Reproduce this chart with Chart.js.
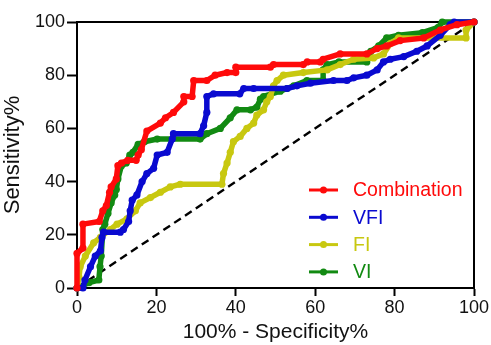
<!DOCTYPE html>
<html>
<head>
<meta charset="utf-8">
<script src="https://cdn.jsdelivr.net/npm/chart.js@4/dist/chart.umd.min.js"></script>
<style>
  html, body { margin: 0; padding: 0; background: #fff; }
  #wrap { width: 491px; height: 345px; }
</style>
</head>
<body>
<div id="wrap"><canvas id="c" width="491" height="345"></canvas></div>
<script>
// ---- data (x = 100% - Specificity%, y = Sensitivity%) ----
const seriesNames = ["Combination", "VFI", "FI", "VI"];

const combinationX = [0, 0, 1.5, 1.5, 5.6, 6.5, 7.4, 8.2, 8.6, 9.9, 10.3, 11.2, 12.8, 14.9, 15.4, 16.2, 17.6, 21, 22.3, 24.3, 26.9, 26.9, 29, 29.4, 32.7, 34.8, 37.8, 40, 40, 48.7, 49.5, 57, 58, 61.3, 62, 66.3, 73, 75.6, 78, 81.4, 87.3, 91.5, 95.7, 100];
const combinationY = [0, 13, 15, 24, 25, 29, 31, 36, 38, 41, 46, 47, 48, 48, 50, 52, 59, 62, 64, 66, 70, 72, 72, 78, 78, 80, 81, 81, 83, 83, 84, 84, 85, 85, 86, 88, 88, 90, 91, 93, 94, 97, 99, 100];

const vfiX = [0, 1.5, 2, 3.4, 4.6, 5.9, 6.3, 6.7, 10.9, 11.7, 13, 13.4, 13.9, 15.1, 16.4, 17.6, 19.3, 20.2, 22.7, 24, 24.3, 31, 31.9, 32.7, 32.7, 34.4, 41, 42, 44.5, 52.9, 55.4, 58.8, 64.6, 68, 69.7, 73, 75.6, 77.2, 78.9, 82.3, 85.6, 88.2, 91.5, 94, 95, 100];
const vfiY = [0, 0, 3, 8, 12, 14, 19, 21, 21, 22, 25, 29, 33, 35, 40, 43, 45, 50, 51, 56, 58, 58, 61, 66, 72, 73, 73, 75, 75, 75, 76, 77, 78, 78, 79, 80, 82, 85, 86, 87, 89, 91, 95, 99, 100, 100];

const fiX = [0, 0.5, 0.8, 2.1, 4.2, 5.9, 8.4, 10.1, 12.6, 14.7, 15.9, 18.5, 21, 23.5, 26, 36.5, 36.9, 37.8, 38.6, 39.4, 41.1, 42.8, 44.5, 45.3, 47, 47.8, 48.7, 49.5, 50.4, 52, 57, 63, 66.3, 69.7, 74.7, 77.2, 79, 81, 98, 98, 100];
const fiY = [0, 4, 8, 12, 17, 19, 22, 24, 26, 29, 32, 34, 36, 38, 39, 39, 43, 47, 51, 55, 57, 60, 62, 65, 67, 70, 72, 76, 78, 80, 81, 82, 84, 86, 86.5, 88, 92, 94, 94, 97, 100];

const viX = [0, 3, 5.5, 5.8, 6.1, 6.5, 7, 7.8, 8.6, 9.5, 9.9, 10.3, 11.2, 12.4, 13.3, 14.1, 15.4, 17, 20.2, 31, 32.7, 36.1, 38.6, 40.3, 43.7, 45.3, 46.2, 47, 51.2, 52.9, 54.6, 57.9, 62, 62, 63, 66, 73, 74, 76, 78, 81, 87, 91, 92, 100];
const viY = [0, 2, 3, 8, 12, 22, 24, 28, 32, 35, 37, 41, 46, 47, 50, 51, 54, 55, 56, 56, 58, 60, 64, 67, 67, 68, 71, 72, 74, 75, 76, 78, 78, 82, 84, 85, 85, 89, 91, 94, 95, 96, 98, 100, 100];

const refX = [0, 100];
const refY = [0, 100];

const xTicks = [0, 20, 40, 60, 80, 100];
const yTicks = [0, 20, 40, 60, 80, 100];

const colors = ["#ff0a0a", "#0a0ad0", "#c8c810", "#128a12"];

function pts(xs, ys) { return xs.map((x, i) => ({ x: x, y: ys[i] })); }

const curveStyle = (c) => ({
  borderColor: c, backgroundColor: c, pointBackgroundColor: c, pointBorderColor: c,
  borderWidth: 5.5, pointRadius: 3.6, pointBorderWidth: 0, tension: 0, fill: false, clip: false,
  borderJoinStyle: "round", borderCapStyle: "round"
});

const datasets = [
  Object.assign({ label: seriesNames[0], data: pts(combinationX, combinationY) }, curveStyle(colors[0])),
  Object.assign({ label: seriesNames[1], data: pts(vfiX, vfiY) }, curveStyle(colors[1])),
  Object.assign({ label: seriesNames[2], data: pts(fiX, fiY) }, curveStyle(colors[2])),
  Object.assign({ label: seriesNames[3], data: pts(viX, viY) }, curveStyle(colors[3])),
  { label: "ref", data: pts(refX, refY), borderColor: "#000", borderWidth: 2.4, borderDash: [8, 5],
    pointRadius: 0, fill: false, clip: false }
];

const framePlugin = {
  id: "frame",
  beforeDatasetsDraw(chart) {
    const a = chart.chartArea, ctx = chart.ctx;
    ctx.save();
    ctx.strokeStyle = "#000";
    ctx.lineWidth = 2;
    ctx.beginPath();
    ctx.moveTo(a.left, a.top);
    ctx.lineTo(a.right, a.top);
    ctx.lineTo(a.right, a.bottom);
    ctx.stroke();
    ctx.restore();
  }
};

const legendPlugin = {
  id: "insideLegend",
  afterDatasetsDraw(chart) {
    const ctx = chart.ctx;
    const x0 = 309, x1 = 338, tx = 353, y0 = 190, dy = 27.3;
    ctx.save();
    ctx.font = "19.5px 'Liberation Sans', Arial, sans-serif";
    ctx.textBaseline = "middle";
    for (let i = 0; i < 4; i++) {
      const ds = chart.data.datasets[i];
      const y = y0 + i * dy;
      ctx.strokeStyle = ds.borderColor;
      ctx.lineWidth = 3;
      ctx.beginPath(); ctx.moveTo(x0, y); ctx.lineTo(x1, y); ctx.stroke();
      ctx.fillStyle = ds.borderColor;
      ctx.beginPath(); ctx.arc((x0 + x1) / 2, y, 3.5, 0, Math.PI * 2); ctx.fill();
      ctx.fillText(ds.label, tx, y + 1);
    }
    ctx.restore();
  }
};

const tickFont = { family: "'Liberation Sans', Arial, sans-serif", size: 18 };
const titleFont = { family: "'Liberation Sans', Arial, sans-serif", size: 21 };
const yTitleFont = { family: "'Liberation Sans', Arial, sans-serif", size: 22 };

new Chart(document.getElementById("c"), {
  type: "line",
  data: { datasets: datasets },
  options: {
    responsive: false,
    animation: false,
    layout: { padding: { top: 22, right: 17, left: 0, bottom: 0 } },
    plugins: { legend: { display: false }, tooltip: { enabled: false } },
    scales: {
      x: {
        type: "linear", min: 0, max: 100,
        afterBuildTicks: (s) => { s.ticks = xTicks.map(v => ({ value: v })); },
        afterFit: (s) => { s.height = 57; },
        border: { color: "#000", width: 2 },
        grid: { drawOnChartArea: false, drawTicks: true, tickLength: 8, tickColor: "#000", tickWidth: 2 },
        ticks: { color: "#111", font: tickFont, padding: 1, maxRotation: 0 },
        title: { display: true, text: "100% - Specificity%", color: "#111", font: titleFont, padding: { top: 0, bottom: 0 } }
      },
      y: {
        type: "linear", min: 0, max: 100,
        afterBuildTicks: (s) => { s.ticks = yTicks.map(v => ({ value: v })); },
        afterFit: (s) => { s.width = 77; },
        border: { color: "#000", width: 2 },
        grid: { drawOnChartArea: false, drawTicks: true, tickLength: 10, tickColor: "#000", tickWidth: 2 },
        ticks: { color: "#111", font: tickFont, padding: 2 },
        title: { display: true, text: "Sensitivity%", color: "#111", font: yTitleFont, padding: { top: 0, bottom: 1 } }
      }
    }
  },
  plugins: [framePlugin, legendPlugin]
});
</script>
</body>
</html>
